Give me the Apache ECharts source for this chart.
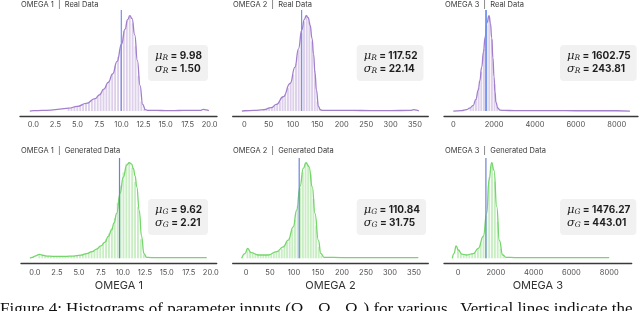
<!DOCTYPE html>
<html><head><meta charset="utf-8">
<script src="https://cdn.jsdelivr.net/npm/echarts@6/dist/echarts.min.js"></script>
<style>html,body{margin:0;padding:0;background:#fff;overflow:hidden}#c{width:640px;height:311px}</style>
</head><body><div id="c"></div>
<script>
// ---------- DATA ----------
const panelTitles = ['OMEGA 1  |  Real Data', 'OMEGA 2  |  Real Data', 'OMEGA 3  |  Real Data',
                     'OMEGA 1  |  Generated Data', 'OMEGA 2  |  Generated Data', 'OMEGA 3  |  Generated Data'];
const axisNames = ['OMEGA 1', 'OMEGA 2', 'OMEGA 3'];
const ticks1 = [0, 2.5, 5, 7.5, 10, 12.5, 15, 17.5, 20];
const ticks2 = [0, 50, 100, 150, 200, 250, 300, 350];
const ticks3 = [0, 2000, 4000, 6000, 8000];
const tickDecimals = [1, 0, 0];

const meansReal = [9.98, 117.52, 1602.75];
const sdReal = [1.50, 22.14, 243.81];
const meansGen = [9.62, 110.84, 1476.27];
const sdGen = [2.21, 31.75, 443.01];

// KDE curves (relative density, peak = 1)
const realX1 = [-0.4, 0, 1, 2, 3, 4, 5, 6, 7, 7.5, 8, 8.5, 9, 9.5, 10, 10.4, 10.7, 10.95, 11.2, 11.5, 11.8, 12.1, 12.4, 12.7, 13, 14, 15, 16, 17, 18, 19, 19.3, 19.6, 19.9];
const realY1 = [0.0, 0.004, 0.006, 0.01, 0.02, 0.03, 0.05, 0.08, 0.13, 0.17, 0.23, 0.30, 0.39, 0.52, 0.70, 0.86, 0.96, 1.0, 0.97, 0.80, 0.53, 0.27, 0.07, 0.015, 0.006, 0.006, 0.005, 0.005, 0.006, 0.006, 0.007, 0.018, 0.012, 0.004];
const realX2 = [-5, 0, 20, 40, 55, 66, 80, 94, 104, 111, 118, 123, 127, 131, 135, 139, 142, 145, 148, 152, 156, 160, 180, 220, 260, 300, 340, 348, 353, 358];
const realY2 = [0, 0.003, 0.006, 0.015, 0.035, 0.07, 0.15, 0.29, 0.46, 0.65, 0.85, 0.96, 1.0, 0.98, 0.9, 0.76, 0.6, 0.4, 0.22, 0.05, 0.015, 0.006, 0.006, 0.006, 0.005, 0.005, 0.006, 0.015, 0.01, 0.0];
const realX3 = [0, 400, 655, 800, 980, 1100, 1224, 1300, 1390, 1480, 1552, 1650, 1748, 1820, 1880, 1940, 1993, 2040, 2090, 2180, 2286, 2500, 3000, 4000, 5000, 6000, 7000, 8000, 8650];
const realY3 = [0, 0.004, 0.015, 0.03, 0.06, 0.12, 0.22, 0.32, 0.46, 0.62, 0.77, 0.93, 1.0, 0.92, 0.77, 0.56, 0.36, 0.2, 0.09, 0.03, 0.01, 0.006, 0.005, 0.004, 0.004, 0.003, 0.003, 0.003, 0.0];
const genX1 = [-0.57, -0.3, 0.0, 0.49, 0.9, 1.33, 2.0, 2.85, 3.6, 4.36, 5.2, 5.88, 6.5, 7.02, 7.5, 7.97, 8.35, 8.73, 9.0, 9.3, 9.68, 10.05, 10.44, 10.73, 11.0, 11.19, 11.4, 11.58, 11.87, 12.13, 12.4, 12.7, 13.2, 15, 17, 19, 19.55];
const genY1 = [0, 0.01, 0.024, 0.042, 0.032, 0.024, 0.021, 0.02, 0.021, 0.024, 0.033, 0.05, 0.07, 0.097, 0.13, 0.17, 0.23, 0.30, 0.37, 0.47, 0.68, 0.85, 0.976, 1.0, 0.985, 0.94, 0.86, 0.75, 0.5, 0.23, 0.05, 0.01, 0.008, 0.008, 0.008, 0.008, 0.007];
const genX2 = [-9, -2, 3.5, 10.4, 25.7, 46.5, 64, 77.7, 88, 98.5, 105.6, 112.5, 119.4, 125, 131.3, 138, 143.7, 150.7, 156, 163, 200, 260, 320, 359];
const genY2 = [0, 0.05, 0.105, 0.06, 0.035, 0.035, 0.07, 0.12, 0.19, 0.33, 0.505, 0.75, 0.94, 1.0, 0.96, 0.75, 0.47, 0.19, 0.05, 0.01, 0.008, 0.008, 0.008, 0.008];
const genX3 = [-300, -210, -100, 20, 195, 460, 810, 1075, 1340, 1520, 1640, 1780, 1905, 2050, 2185, 2365, 2540, 3000, 4000, 5000, 6000, 7000, 8000];
const genY3 = [0, 0.05, 0.13, 0.087, 0.045, 0.035, 0.05, 0.105, 0.23, 0.47, 0.82, 1.0, 0.92, 0.54, 0.19, 0.035, 0.01, 0.008, 0.008, 0.008, 0.008, 0.008, 0.008];

// Histogram bins: first bin centre, bin width, heights
const binStart = [4.0, 40, 850, 0.5, 3, 0];
const binWidth = [0.33, 5.5, 130, 0.33, 5.5, 150];
const realBars1 = [0.03, 0.037, 0.043, 0.05, 0.06, 0.068, 0.08, 0.095, 0.113, 0.13, 0.155, 0.19, 0.23, 0.27, 0.32, 0.39, 0.47, 0.57, 0.70, 0.84, 0.95, 1.0, 0.92, 0.68, 0.37, 0.10, 0.02];
const realBars2 = [0.015, 0.022, 0.03, 0.04, 0.055, 0.075, 0.10, 0.14, 0.18, 0.24, 0.30, 0.38, 0.50, 0.64, 0.82, 0.94, 1.0, 0.93, 0.73, 0.42, 0.10, 0.02];
const realBars3 = [0.035, 0.06, 0.13, 0.24, 0.41, 0.65, 0.90, 0.99, 0.75, 0.28, 0.04];
const genBars1 = [0.04, 0.034, 0.027, 0.023, 0.021, 0.02, 0.02, 0.02, 0.02, 0.021, 0.022, 0.023, 0.026, 0.029, 0.033, 0.04, 0.048, 0.058, 0.07, 0.087, 0.105, 0.13, 0.16, 0.2, 0.26, 0.32, 0.42, 0.58, 0.76, 0.9, 0.99, 1.0, 0.95, 0.8, 0.54, 0.2, 0.04];
const genBars2 = [0.1, 0.07, 0.05, 0.042, 0.036, 0.034, 0.034, 0.035, 0.037, 0.042, 0.05, 0.065, 0.08, 0.1, 0.13, 0.17, 0.22, 0.3, 0.4, 0.55, 0.74, 0.9, 0.99, 0.98, 0.88, 0.62, 0.34, 0.12, 0.03];
const genBars3 = [0.09, 0.05, 0.04, 0.035, 0.037, 0.045, 0.06, 0.1, 0.16, 0.24, 0.44, 0.85, 1.0, 0.8, 0.38, 0.1, 0.02];

const caption = 'Figure 4: Histograms of parameter inputs (\u03A9\u2081, \u03A9\u2082, \u03A9\u2083) for various . Vertical lines indicate the';

// ---------- LAYOUT / STYLE ----------
const layout = [
  {left: 20,    width: 197,   top: 10,  height: 106,   xmin: -1.51, xmax: 20.83, box: [148, 45],  tx: 21,  ty: 1},
  {left: 232.7, width: 195.6, top: 10,  height: 106,   xmin: -23.8, xmax: 377.4, box: [356.7, 45], tx: 233, ty: 1},
  {left: 444,   width: 194,   top: 10,  height: 106,   xmin: -455,  xmax: 9043,  box: [560, 45],  tx: 445, ty: 1},
  {left: 21,    width: 195.7, top: 157, height: 106.3, xmin: -1.59, xmax: 20.68, box: [148, 199], tx: 21,  ty: 147},
  {left: 232.7, width: 195.6, top: 157, height: 106.3, xmin: -27.7, xmax: 379.8, box: [356.7, 199], tx: 233, ty: 147},
  {left: 444,   width: 187.7, top: 157, height: 106.3, xmin: -741,  xmax: 9190,  box: [560, 199], tx: 445, ty: 147}
];
const yMin = -0.052, yMax = 1.06;
const curveX = [realX1, realX2, realX3, genX1, genX2, genX3];
const curveY = [realY1, realY2, realY3, genY1, genY2, genY3];
const bars = [realBars1, realBars2, realBars3, genBars1, genBars2, genBars3];
const tickSets = [ticks1, ticks2, ticks3];
const purple = '#a27fcd', purpleBar = '#ddd0ea';
const green = '#74d66b', greenBar = '#c9eec4';
const blueTop = '#6f93ef', blueBot = '#6c80dc';
const sans = 'Inter, "Noto Sans", sans-serif';

const grid = [], xAxis = [], yAxis = [], series = [], graphic = [];
for (let i = 0; i < 6; i++) {
  const L = layout[i], col = i % 3, real = i < 3;
  grid.push({left: L.left, top: L.top, width: L.width, height: L.height});
  xAxis.push({
    gridIndex: i, type: 'value', min: L.xmin, max: L.xmax,
    axisLine: {show: true, onZero: false, lineStyle: {color: '#3a3a3a', width: 1.3}},
    axisTick: {show: false}, splitLine: {show: false},
    axisLabel: {customValues: tickSets[col], formatter: v => Number(v).toFixed(tickDecimals[col]),
      fontSize: 7.5, color: '#505050', margin: 5, fontFamily: sans}
  });
  yAxis.push({gridIndex: i, type: 'value', min: yMin, max: yMax, show: false});
  series.push({
    type: 'bar', xAxisIndex: i, yAxisIndex: i, barWidth: 1.9, silent: true,
    itemStyle: {color: real ? purpleBar : greenBar},
    data: bars[i].map((h, k) => [+(binStart[i] + k * binWidth[i]).toFixed(4), h])
  });
  series.push({
    type: 'line', xAxisIndex: i, yAxisIndex: i, smooth: 0.5, smoothMonotone: 'x', symbol: 'none', silent: true, z: 3,
    lineStyle: {color: real ? purple : green, width: 1.3},
    data: curveX[i].map((x, k) => [x, curveY[i][k]])
  });
  const mean = real ? meansReal[col] : meansGen[col];
  const sd = real ? sdReal[col] : sdGen[col];
  series.push({
    type: 'line', xAxisIndex: i, yAxisIndex: i, symbol: 'none', silent: true, z: 4,
    lineStyle: {color: real ? blueTop : blueBot, width: i === 2 ? 1.8 : 1.2},
    data: [[mean, 0], [mean, real ? yMax : yMax - 0.01]]
  });
  graphic.push({type: 'text', x: L.tx, y: L.ty, silent: true,
    style: {text: panelTitles[i], fontSize: 7.5, fontFamily: sans, fill: '#3a3a3a'}});
  const sub = real ? 'R' : 'G';
  graphic.push({type: 'text', x: L.box[0], y: L.box[1], silent: true, z: 10,
    style: {
      text: '{g|\u03BC}{s|' + sub + '}{v| = ' + mean.toFixed(2) + '}\n{g|\u03C3}{s|' + sub + '}{v| = ' + sd.toFixed(2) + '}',
      backgroundColor: '#f1f1f1', borderRadius: 4, padding: [5, 6, 6, 7],
      rich: {
        g: {fontFamily: '"DejaVu Serif", serif', fontStyle: 'italic', fontSize: 11.5, fill: '#222', lineHeight: 12.5},
        s: {fontFamily: '"DejaVu Serif", serif', fontStyle: 'italic', fontSize: 7.5, fill: '#222', lineHeight: 12.5, verticalAlign: 'bottom', padding: [4, 0, 0, 0]},
        v: {fontFamily: sans, fontWeight: 'bold', fontSize: 10, fill: '#1e1e1e', lineHeight: 12.5}
      }
    }});
}
for (let c = 0; c < 3; c++) {
  const L = layout[3 + c];
  graphic.push({type: 'text', x: L.left + L.width / 2, y: 280, silent: true,
    style: {text: axisNames[c], fontSize: 11, fontFamily: sans, fill: '#333', textAlign: 'center'}});
}
graphic.push({type: 'text', x: 0, y: 301, silent: true,
  style: {text: caption, fontSize: 17, fontFamily: '"Liberation Serif", "DejaVu Serif", serif', fill: '#111'}});

const chart = echarts.init(document.getElementById('c'), null, {renderer: 'canvas'});
chart.setOption({animation: false, backgroundColor: '#fff', grid, xAxis, yAxis, series, graphic});
</script></body></html>
